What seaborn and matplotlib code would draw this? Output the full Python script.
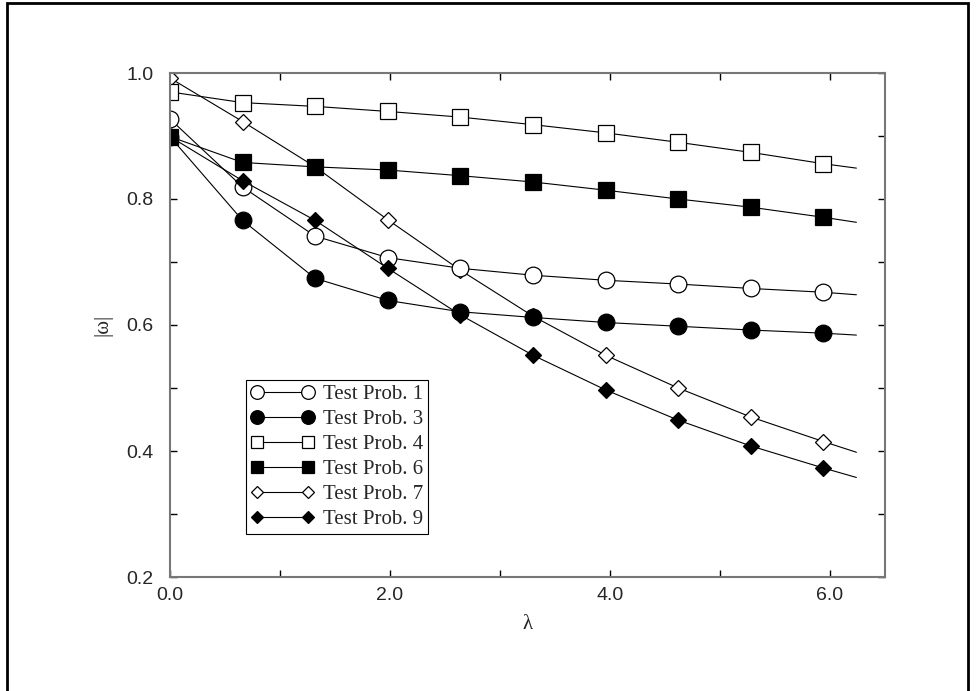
import numpy as np
import pandas as pd
import matplotlib
matplotlib.use("Agg")
import matplotlib.pyplot as plt
import seaborn as sns
from matplotlib.patches import Rectangle
from matplotlib.ticker import MultipleLocator, FormatStrFormatter

# lambda values of the computed points, plus where the drawn curves stop
lam = [0.0, 0.66, 1.32, 1.98, 2.64, 3.30, 3.96, 4.62, 5.28, 5.94]
lam_end = 6.24

labels = ["Test Prob. 1", "Test Prob. 3", "Test Prob. 4",
          "Test Prob. 6", "Test Prob. 7", "Test Prob. 9"]

prob1 = [0.927, 0.819, 0.741, 0.707, 0.690, 0.679, 0.671, 0.665, 0.658, 0.652]
prob3 = [0.899, 0.766, 0.674, 0.639, 0.621, 0.612, 0.604, 0.598, 0.592, 0.587]
prob4 = [0.970, 0.953, 0.947, 0.939, 0.930, 0.918, 0.905, 0.890, 0.874, 0.856]
prob6 = [0.899, 0.858, 0.851, 0.846, 0.837, 0.827, 0.814, 0.800, 0.787, 0.771]
prob7 = [0.992, 0.923, 0.851, 0.767, 0.687, 0.614, 0.552, 0.500, 0.454, 0.415]
prob9 = [0.899, 0.829, 0.766, 0.690, 0.616, 0.552, 0.497, 0.449, 0.408, 0.373]

# curve value at lam_end for each series
tails = [0.648, 0.584, 0.849, 0.763, 0.398, 0.358]

series = [prob1, prob3, prob4, prob6, prob7, prob9]
markers = ["o", "o", "s", "s", "D", "D"]
faces = ["white", "black", "white", "black", "white", "black"]
msizes = [12, 12, 11, 11, 8, 8]

sns.set_style("ticks")
plt.rcParams["font.family"] = ["Liberation Sans", "DejaVu Sans"]

fig = plt.figure(figsize=(9.76, 6.91), dpi=100)
ax = fig.add_axes([170 / 976, 1 - 577 / 691, 715 / 976, 504 / 691])

for i, ys in enumerate(series):
    df = pd.DataFrame({"lam": lam + [lam_end], "w": ys + [tails[i]]})
    sns.lineplot(data=df, x="lam", y="w", ax=ax, color="black", linewidth=0.8,
                 marker=markers[i], markersize=msizes[i],
                 markerfacecolor=faces[i], markeredgecolor="black",
                 markeredgewidth=0.9, markevery=list(range(len(lam))),
                 label=labels[i], zorder=1.9 if i == 4 else 2)

ax.set_xlim(0, 6.5)
ax.set_ylim(0.2, 1.0)
ax.xaxis.set_major_locator(MultipleLocator(2))
ax.xaxis.set_minor_locator(MultipleLocator(1))
ax.yaxis.set_major_locator(MultipleLocator(0.2))
ax.yaxis.set_minor_locator(MultipleLocator(0.1))
ax.xaxis.set_major_formatter(FormatStrFormatter("%.1f"))
ax.yaxis.set_major_formatter(FormatStrFormatter("%.1f"))

ax.tick_params(which="both", direction="in", top=True, right=True,
               length=5, width=1, color="black", labelsize=14)
ax.tick_params(axis="x", pad=7)
ax.tick_params(axis="y", pad=12)
for sp in ax.spines.values():
    sp.set_color("#777777")
    sp.set_linewidth(1.5)

ax.set_xlabel("λ", fontsize=15, family=["Liberation Serif", "DejaVu Serif"], labelpad=8)
ax.set_ylabel("|ω|", fontsize=15, family=["Liberation Serif", "DejaVu Serif"], labelpad=10)

leg = ax.legend(loc="lower left", bbox_to_anchor=(0.106, 0.085), borderaxespad=0,
                numpoints=2, handlelength=3.05, handletextpad=0.42, markerscale=0.82,
                labelspacing=0.26, borderpad=0.23, fancybox=False, framealpha=1,
                edgecolor="black", prop={"family": "Liberation Serif", "size": 15})
leg.get_frame().set_linewidth(0.8)

# outer border of the picture
fig.add_artist(Rectangle((7 / 976, -0.05), 961 / 976, 1.05 - 3 / 691,
                         transform=fig.transFigure, fill=False,
                         edgecolor="black", linewidth=2))

fig.savefig("out.png", dpi=100)
